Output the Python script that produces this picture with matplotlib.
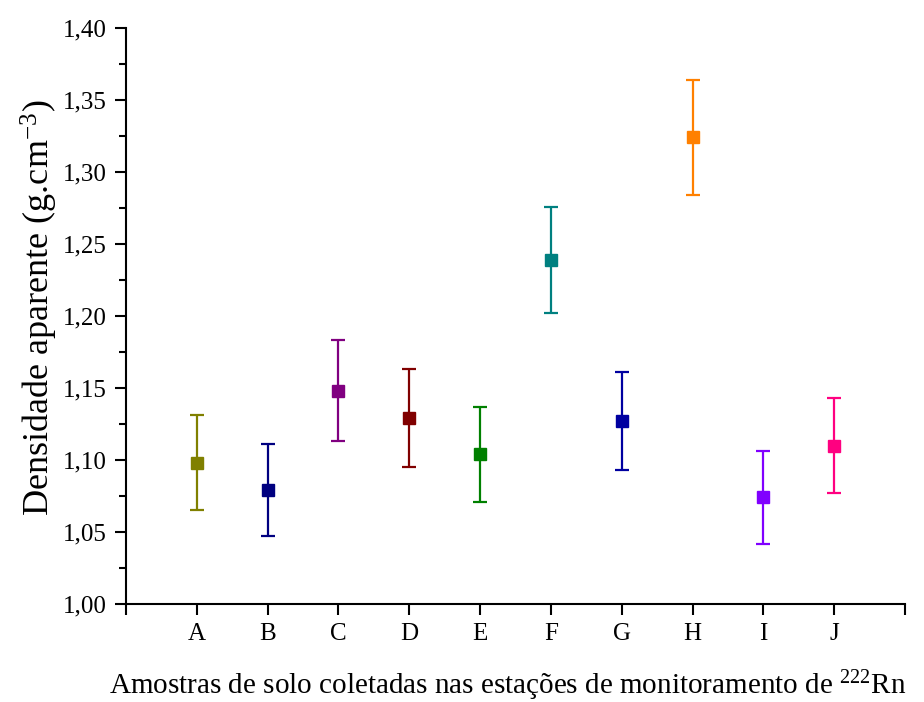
import matplotlib
matplotlib.use("Agg")
import matplotlib.pyplot as plt
from matplotlib.ticker import MultipleLocator, FuncFormatter

# bulk density per sampling station (mean and standard deviation)
stations = ["A", "B", "C", "D", "E", "F", "G", "H", "I", "J"]
density = [1.098, 1.079, 1.148, 1.129, 1.104, 1.239, 1.127, 1.324, 1.074, 1.110]
std_dev = [0.033, 0.032, 0.035, 0.034, 0.033, 0.037, 0.034, 0.040, 0.032, 0.033]
colors = ["#808000", "#000080", "#800080", "#800000", "#008000",
          "#008080", "#0000A0", "#FF8000", "#8000FF", "#FF0080"]

plt.rcParams["font.family"] = ["Liberation Serif", "DejaVu Serif"]
plt.rcParams["mathtext.fontset"] = "custom"
plt.rcParams["mathtext.rm"] = "Liberation Serif"
plt.rcParams["mathtext.it"] = "Liberation Serif"

fig = plt.figure(figsize=(9.24, 7.02), dpi=100)
ax = fig.add_axes([0.1364, 0.1396, 0.843, 0.8205])

for i, (y, e, c) in enumerate(zip(density, std_dev, colors)):
    ax.errorbar(i + 1, y, yerr=e, fmt="s", color=c, ecolor=c,
                markersize=8.5, elinewidth=1.6, capsize=5, capthick=1.6)

ax.set_xlim(0, 11)
ax.set_ylim(1.00, 1.40)
ax.set_xticks(range(0, 12))
ax.set_xticklabels([""] + stations + [""])
ax.yaxis.set_major_locator(MultipleLocator(0.05))
ax.yaxis.set_minor_locator(MultipleLocator(0.025))
ax.yaxis.set_major_formatter(FuncFormatter(lambda v, p: f"{v:.2f}".replace(".", ",")))

for side in ("top", "right"):
    ax.spines[side].set_visible(False)
for side in ("left", "bottom"):
    ax.spines[side].set_linewidth(1.5)

ax.tick_params(axis="both", which="major", direction="out", length=8,
               width=1.5, labelsize=18, pad=6)
ax.tick_params(axis="y", which="minor", direction="out", length=5, width=1.5)

ax.set_ylabel("Densidade aparente (g.cm$^{-3}$)", fontsize=26)
ax.yaxis.set_label_coords(-0.085, 0.515)
ax.set_xlabel("Amostras de solo coletadas nas estações de monitoramento de $^{222}$Rn",
              fontsize=21)
ax.xaxis.set_label_coords(0.49, -0.112)

fig.savefig("out.png", dpi=100)
